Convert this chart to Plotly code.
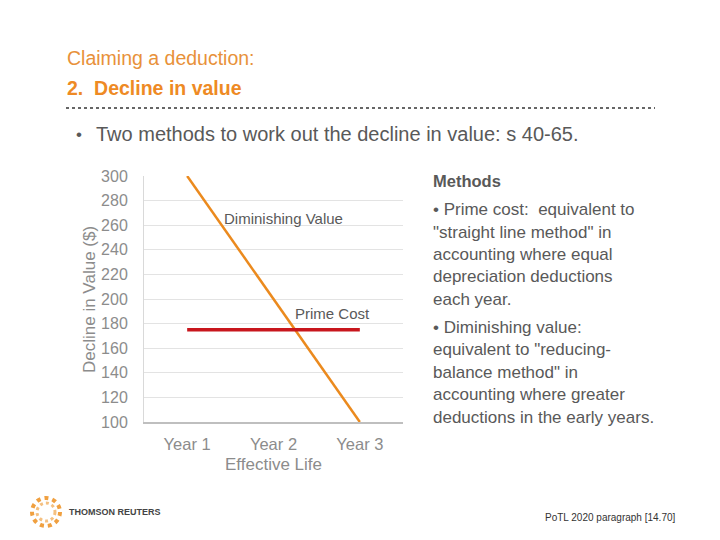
import plotly.graph_objects as go

# chart data
years = ["Year 1", "Year 2", "Year 3"]
diminishing_value = [300, 200, 100]
prime_cost = [175, 175, 175]
y_ticks = [100, 120, 140, 160, 180, 200, 220, 240, 260, 280, 300]

# slide text
title_line1 = "Claiming a deduction:"
title_line2 = "2.  Decline in value"
intro = "Two methods to work out the decline in value: s 40-65."
methods_head = "Methods"
methods_lines = [
    "• Prime cost:  equivalent to",
    "\"straight line method\" in",
    "accounting where equal",
    "depreciation deductions",
    "each year.",
    "• Diminishing value:",
    "equivalent to \"reducing-",
    "balance method\" in",
    "accounting where greater",
    "deductions in the early years.",
]
footer = "PoTL 2020 paragraph [14.70]"

# page offset of the plot div (browser body margin)
OFF = 8
W, H = 720 - OFF, 540 - OFF
L, R, T, B = 144, 403, 176, 422   # plot area in window pixels
FONT = "Liberation Sans, Arial, sans-serif"
GREY = "#595959"
ORANGE = "#EE8A24"


def px(x):
    return (x - L) / (R - L)


def py(y):
    return (B - y) / (B - T)


fig = go.Figure()

fig.add_trace(go.Scatter(
    x=years, y=diminishing_value, mode="lines",
    line=dict(color="#EB8A1E", width=2.5),
    name="Diminishing Value", hoverinfo="x+y",
))
fig.add_trace(go.Scatter(
    x=years, y=prime_cost, mode="lines",
    line=dict(color="#C8161D", width=3.5),
    name="Prime Cost", hoverinfo="x+y",
))

annotations = []


def txt(x, y, text, size, color=GREY, xanchor="left", bold=False, angle=0, family=FONT):
    if bold:
        text = "<b>" + text + "</b>"
    annotations.append(dict(
        x=px(x), y=py(y), xref="paper", yref="paper", text=text,
        showarrow=False, xanchor=xanchor, yanchor="middle", textangle=angle,
        font=dict(family=family, size=size, color=color),
    ))


# title block
txt(65, 58, title_line1, 19.5, color="#E8913A")
txt(65, 88, title_line2, 19.5, color=ORANGE, bold=True)
txt(74, 134, "•", 17)
txt(94, 134, intro, 20)

# labels on the chart
txt(283, 218, "Diminishing Value", 15, xanchor="center")
txt(332, 313, "Prime Cost", 15, xanchor="center")
txt(89, 300, "Decline in Value ($)", 17, color="#8C8C8C", xanchor="center", angle=-90)
txt(273, 464, "Effective Life", 17, color="#8C8C8C", xanchor="center")

# methods column
txt(431, 181, methods_head, 16.5, bold=True)
line_y = [209, 232, 254, 276, 299, 327, 349, 372, 394, 417]
for yy, line in zip(line_y, methods_lines):
    txt(431, yy, line, 17)

# footer
txt(678, 517, footer, 10, color="#333333", xanchor="right")
txt(67, 512, "<b>THOMSON REUTERS</b>", 9, color="#444444")

shapes = [
    dict(type="line", xref="paper", yref="paper",
         x0=px(66), x1=px(655), y0=py(108), y1=py(108),
         line=dict(color="#666666", width=2, dash="dot")),
    dict(type="circle", xref="paper", yref="paper",
         x0=px(32), x1=px(60), y0=py(498), y1=py(526),
         line=dict(color="#F0A040", width=4, dash="dot")),
    dict(type="circle", xref="paper", yref="paper",
         x0=px(37), x1=px(55), y0=py(503), y1=py(521),
         line=dict(color="#F5C080", width=3, dash="dot")),
]

fig.update_layout(
    width=W, height=H,
    margin=dict(l=L - OFF, r=W + OFF - R, t=T - OFF, b=H + OFF - B),
    paper_bgcolor="white", plot_bgcolor="white",
    showlegend=False,
    annotations=annotations,
    shapes=shapes,
    xaxis=dict(
        type="category", range=[-0.5, 2.5],
        showgrid=False, showline=True, linecolor="#BFBFBF", linewidth=1.5,
        tickfont=dict(family=FONT, size=16.5, color="#8C8C8C"),
        ticks="", ticklabelstandoff=6, fixedrange=True,
    ),
    yaxis=dict(
        range=[100, 300], tickvals=y_ticks,
        showgrid=True, gridcolor="#E3E3E3", gridwidth=1,
        showline=True, linecolor="#D9D9D9", zeroline=False,
        tickfont=dict(family=FONT, size=16, color="#8C8C8C"),
        ticks="", ticklabelstandoff=12, fixedrange=True,
    ),
    font=dict(family=FONT),
)

fig.write_html("out.html")
